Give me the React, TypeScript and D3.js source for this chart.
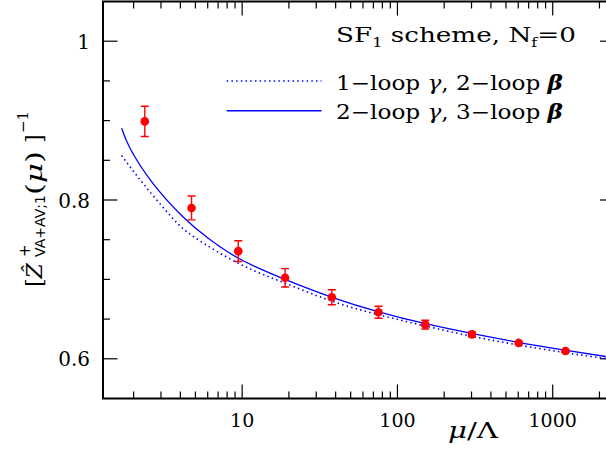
import React, { useRef, useEffect } from 'react';
import * as d3 from 'd3';

// 2-loop gamma, 3-loop beta (solid)
const solidMu = [1.674, 1.907, 2.662, 4.152, 6.017, 9.665, 19.03, 37.96, 75.86, 151.6, 299.7, 597.8, 1195, 2194];
const solidZ = [0.8903, 0.8642, 0.8210, 0.7790, 0.7521, 0.7257, 0.6997, 0.6775, 0.6591, 0.6442, 0.6320, 0.6208, 0.6110, 0.6029];
// 1-loop gamma, 2-loop beta (dotted)
const dottedMu = [1.674, 2.295, 3.491, 4.939, 9.665, 19.03, 37.96, 75.86, 151.6, 299.7, 597.8, 1195, 2194];
const dottedZ = [0.8560, 0.8210, 0.7790, 0.7530, 0.7194, 0.6951, 0.6725, 0.6554, 0.6413, 0.6285, 0.6175, 0.6078, 0.6003];

// non-perturbative points
const pointMu = [2.36, 4.72, 9.44, 18.9, 37.8, 75.5, 151, 302, 604, 1208];
const pointZ = [0.899, 0.790, 0.7356, 0.702, 0.6775, 0.6586, 0.643, 0.6308, 0.620, 0.6098];
const pointErr = [0.019, 0.015, 0.013, 0.0116, 0.0095, 0.0076, 0.0055, 0.003, 0.002, 0.0015];

const xTicks = [10, 100, 1000];
const xTickLabels = ['10', '100', '1000'];
const yTicks = [0.6, 0.8, 1.0];
const yTickLabels = ['0.6', '0.8', '1'];
const yMinorTicks = [0.65, 0.7, 0.75, 0.85, 0.9, 0.95];

const legendLabels = ['1\u2212loop ', '2\u2212loop '];
const legendLabels2 = ['2\u2212loop ', '3\u2212loop '];

const W = 606;
const H = 450;
const SERIF = '"DejaVu Serif", serif';
const SANS = '"DejaVu Sans", sans-serif';

export default function App() {
    const ref = useRef<SVGSVGElement>(null);

    useEffect(() => {
        if (!ref.current) return;
        const svg = d3.select(ref.current);
        svg.selectAll('*').remove();

        const left = 103, right = 614.5, top = 1.5, bottom = 398.5;
        const x = d3.scaleLog().domain([1.27, 2500]).range([left, right]);
        const y = d3.scaleLinear().domain([0.55, 1.05]).range([bottom, top]);

        const clip = svg.append('defs').append('clipPath').attr('id', 'plot');
        clip.append('rect').attr('x', left).attr('y', top).attr('width', right - left).attr('height', bottom - top);

        // minor x ticks: 2..9 in each decade
        const minorX: number[] = [];
        [1, 10, 100, 1000].forEach(d => {
            for (let k = 2; k <= 9; k++) {
                const v = d * k;
                if (v > 1.27 && v < 2500) minorX.push(v);
            }
        });

        const axes = svg.append('g').attr('stroke', '#000').attr('fill', 'none');
        minorX.forEach(v => {
            axes.append('line').attr('x1', x(v)).attr('x2', x(v)).attr('y1', bottom).attr('y2', bottom - 7).attr('stroke-width', 1.2);
            axes.append('line').attr('x1', x(v)).attr('x2', x(v)).attr('y1', top).attr('y2', top + 7).attr('stroke-width', 1.2);
        });
        xTicks.forEach(v => {
            axes.append('line').attr('x1', x(v)).attr('x2', x(v)).attr('y1', bottom).attr('y2', bottom - 14).attr('stroke-width', 1.2);
            axes.append('line').attr('x1', x(v)).attr('x2', x(v)).attr('y1', top).attr('y2', top + 14).attr('stroke-width', 1.2);
        });
        yMinorTicks.forEach(v => {
            axes.append('line').attr('x1', left).attr('x2', left + 7).attr('y1', y(v)).attr('y2', y(v)).attr('stroke-width', 1.2);
            axes.append('line').attr('x1', right).attr('x2', right - 7).attr('y1', y(v)).attr('y2', y(v)).attr('stroke-width', 1.2);
        });
        yTicks.forEach(v => {
            axes.append('line').attr('x1', left).attr('x2', left + 14.5).attr('y1', y(v)).attr('y2', y(v)).attr('stroke-width', 1.2);
            axes.append('line').attr('x1', right).attr('x2', right - 14.5).attr('y1', y(v)).attr('y2', y(v)).attr('stroke-width', 1.2);
        });
        axes.append('rect')
            .attr('x', left).attr('y', top)
            .attr('width', right - left).attr('height', bottom - top)
            .attr('stroke-width', 2);

        // tick labels
        svg.selectAll('.xlab')
            .data(xTicks)
            .join('text')
            .attr('class', 'xlab')
            .attr('x', d => x(d))
            .attr('y', 426.7)
            .attr('text-anchor', 'middle')
            .style('font-family', SERIF)
            .style('font-size', '19px')
            .text((d, i) => xTickLabels[i]);

        svg.selectAll('.ylab')
            .data(yTicks)
            .join('text')
            .attr('class', 'ylab')
            .attr('x', 90)
            .attr('y', d => y(d) + 7.5)
            .attr('text-anchor', 'end')
            .style('font-family', SERIF)
            .style('font-size', '20px')
            .text((d, i) => yTickLabels[i]);

        // curves
        const lineFor = (mu: number[]) => d3.line<number>()
            .x((d, i) => x(mu[i]))
            .y(d => y(d))
            .curve(d3.curveNatural);

        const plot = svg.append('g').attr('clip-path', 'url(#plot)');
        plot.append('path')
            .attr('d', lineFor(dottedMu)(dottedZ))
            .attr('fill', 'none')
            .attr('stroke', '#0000ff')
            .attr('stroke-width', 1.6)
            .attr('stroke-dasharray', '1.5 3.2');
        plot.append('path')
            .attr('d', lineFor(solidMu)(solidZ))
            .attr('fill', 'none')
            .attr('stroke', '#0000ff')
            .attr('stroke-width', 1.3);

        // error bars and points
        const pts = plot.selectAll('.pt')
            .data(pointMu)
            .join('g')
            .attr('class', 'pt')
            .attr('stroke', '#ff0000')
            .attr('stroke-width', 1.4);
        pts.append('line')
            .attr('x1', d => x(d)).attr('x2', d => x(d))
            .attr('y1', (d, i) => y(pointZ[i] - pointErr[i]))
            .attr('y2', (d, i) => y(pointZ[i] + pointErr[i]));
        pts.append('line')
            .attr('x1', d => x(d) - 4).attr('x2', d => x(d) + 4)
            .attr('y1', (d, i) => y(pointZ[i] - pointErr[i]))
            .attr('y2', (d, i) => y(pointZ[i] - pointErr[i]));
        pts.append('line')
            .attr('x1', d => x(d) - 4).attr('x2', d => x(d) + 4)
            .attr('y1', (d, i) => y(pointZ[i] + pointErr[i]))
            .attr('y2', (d, i) => y(pointZ[i] + pointErr[i]));
        pts.append('circle')
            .attr('cx', d => x(d))
            .attr('cy', (d, i) => y(pointZ[i]))
            .attr('r', 4.3)
            .attr('fill', '#ff0000')
            .attr('stroke', 'none');

        // title
        const title = svg.append('text')
            .attr('x', 336).attr('y', 42)
            .attr('textLength', 240).attr('lengthAdjust', 'spacingAndGlyphs')
            .style('font-family', SERIF).style('font-size', '21px');
        title.append('tspan').text('SF');
        title.append('tspan').attr('dy', 5).style('font-size', '13px').text('1');
        title.append('tspan').attr('dy', -5).text('  scheme,  N');
        title.append('tspan').attr('dy', 5).style('font-size', '13px').text('f');
        title.append('tspan').attr('dy', -5).text('=0');

        // legend
        const legend = [
            { yy: 81, dash: '1.5 3.2', w: 1.6, a: legendLabels[0], b: legendLabels[1] },
            { yy: 110.7, dash: null, w: 1.5, a: legendLabels2[0], b: legendLabels2[1] },
        ];
        legend.forEach(l => {
            svg.append('line')
                .attr('x1', 226.7).attr('x2', 321.5)
                .attr('y1', l.yy).attr('y2', l.yy)
                .attr('stroke', '#0000ff')
                .attr('stroke-width', l.w)
                .attr('stroke-dasharray', l.dash);
            const t = svg.append('text')
                .attr('x', 336).attr('y', l.yy + 8.5)
                .attr('textLength', 227).attr('lengthAdjust', 'spacingAndGlyphs')
                .style('font-family', SERIF).style('font-size', '20px');
            t.append('tspan').text(l.a);
            t.append('tspan').style('font-style', 'italic').text('\u03b3');
            t.append('tspan').text(',  ' + l.b);
            t.append('tspan').style('font-style', 'italic').style('font-weight', 'bold').text('\u03b2');
        });

        // x axis title
        const xt = svg.append('text')
            .attr('x', 448).attr('y', 438)
            .attr('textLength', 50).attr('lengthAdjust', 'spacingAndGlyphs')
            .style('font-family', SERIF).style('font-size', '22px');
        xt.append('tspan').style('font-style', 'italic').text('\u03bc');
        xt.append('tspan').text('/\u039b');

        // y axis title (rotated, pieces placed along the axis)
        const yt = svg.append('g').attr('transform', 'translate(41.7,0) rotate(-90)');
        const zt = yt.append('text').attr('x', -287).attr('y', 0)
            .style('font-family', SERIF).style('font-size', '22px');
        zt.append('tspan').text('[');
        zt.append('tspan').style('font-style', 'italic').text('\u1e90');
        yt.append('text').attr('x', -257).attr('y', -12)
            .style('font-family', SANS).style('font-size', '15px').text('+');
        yt.append('text').attr('x', -257).attr('y', 3.5)
            .attr('textLength', 62).attr('lengthAdjust', 'spacingAndGlyphs')
            .style('font-family', SANS).style('font-size', '14px').text('VA+AV;1');
        const mt = yt.append('text').attr('x', -195).attr('y', 0)
            .attr('textLength', 44).attr('lengthAdjust', 'spacingAndGlyphs')
            .style('font-family', SERIF).style('font-size', '22px');
        mt.append('tspan').text('(');
        mt.append('tspan').style('font-style', 'italic').text('\u03bc');
        mt.append('tspan').text(')');
        yt.append('text').attr('x', -143).attr('y', 0)
            .style('font-family', SERIF).style('font-size', '22px').text(']');
        yt.append('text').attr('x', -133).attr('y', -13.5)
            .style('font-family', SERIF).style('font-size', '15px').text('\u22121');
    }, []);

    return (
        <svg
            ref={ref}
            width={W}
            height={H}
            style={{ position: 'absolute', left: 0, top: 0, background: '#fff' }}
        ></svg>
    );
}
